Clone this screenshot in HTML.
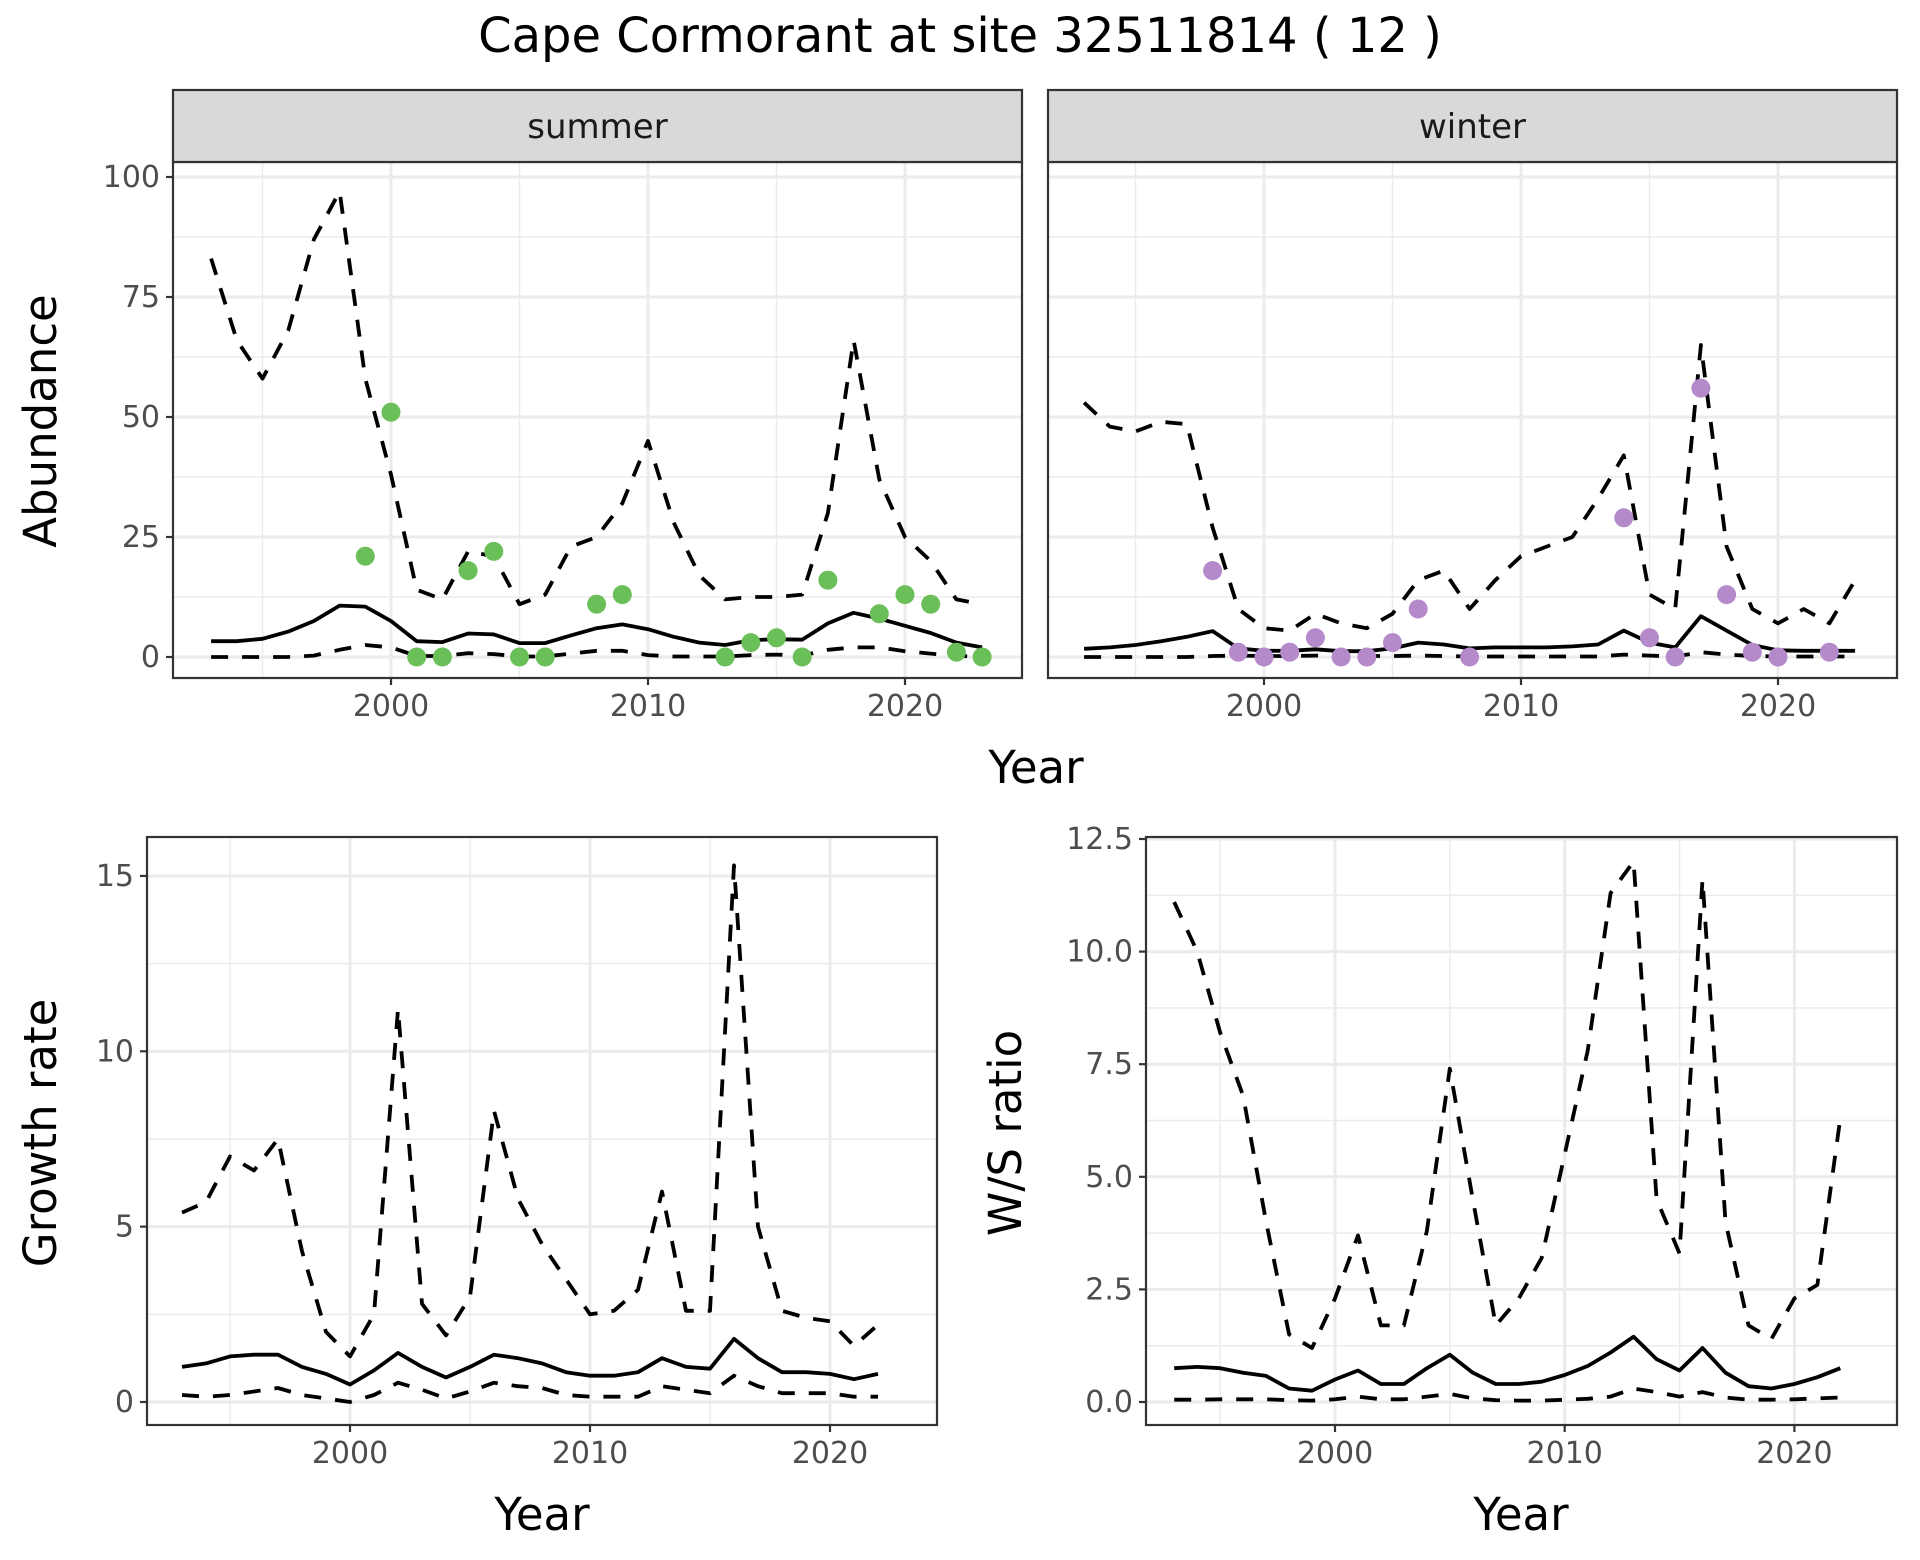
<!DOCTYPE html>
<html><head><meta charset="utf-8">
<style>
html,body{margin:0;padding:0;background:#fff;}
svg{display:block;font-family:"DejaVu Sans","Liberation Sans",sans-serif;}
</style></head>
<body>
<svg id="chart" width="1920" height="1560" viewBox="0 0 1920 1560" xmlns="http://www.w3.org/2000/svg">
<rect width="1920" height="1560" fill="#fff"/>
<text x="960" y="52" font-size="48" text-anchor="middle" fill="#000">Cape Cormorant at site 32511814 ( 12 )</text>
</svg>
<script>
// ---- data ----
const yearsAb = [1993,1994,1995,1996,1997,1998,1999,2000,2001,2002,2003,2004,2005,2006,2007,2008,2009,2010,2011,2012,2013,2014,2015,2016,2017,2018,2019,2020,2021,2022,2023];
const summerUpper = [83,66,58,68,87,97,58,38,14,12,22,21,11,13,23,25,32,45,28,17,12,12.5,12.5,13,30,66,37,25,20,12,11];
const summerMean = [3.3,3.3,3.8,5.3,7.5,10.7,10.5,7.5,3.3,3.1,4.9,4.7,2.9,2.9,4.5,6,6.8,5.8,4.2,3,2.5,3.5,3.7,3.6,7,9.2,8,6.5,5,3,2];
const summerLower = [0,0,0,0,0.3,1.5,2.5,2,0.2,0.2,0.8,0.6,0.1,0.1,0.7,1.3,1.3,0.4,0.1,0.1,0.1,0.4,0.5,0.3,1.5,2,2,1.2,0.7,0.2,0.1];
const summerPtYears = [1999,2000,2001,2002,2003,2004,2005,2006,2008,2009,2013,2014,2015,2016,2017,2019,2020,2021,2022,2023];
const summerPtVals = [21,51,0,0,18,22,0,0,11,13,0,3,4,0,16,9,13,11,1,0];
const winterUpper = [53,48,47,49,48.5,27,10,6,5.5,9,7,6,9,16,18,10,16,21,23,25,33,42,13,10,65,23,10,7,10,7,16];
const winterMean = [1.7,2,2.5,3.3,4.2,5.4,1.8,1.3,1.3,1.6,1.2,1.2,1.8,3,2.6,1.8,2,2,2,2.2,2.6,5.5,3,2,8.5,5.5,2.5,1.4,1.3,1.3,1.3];
const winterLower = [0,0,0,0,0,0.2,0.3,0.2,0.2,0.3,0.2,0.2,0.2,0.3,0.2,0.1,0.1,0.1,0.1,0.1,0.1,0.5,0.3,0.1,1,0.5,0.2,0.1,0.1,0.1,0.1];
const winterPtYears = [1998,1999,2000,2001,2002,2003,2004,2005,2006,2008,2014,2015,2016,2017,2018,2019,2020,2022];
const winterPtVals = [18,1,0,1,4,0,0,3,10,0,29,4,0,56,13,1,0,1];
const yearsB = [1993,1994,1995,1996,1997,1998,1999,2000,2001,2002,2003,2004,2005,2006,2007,2008,2009,2010,2011,2012,2013,2014,2015,2016,2017,2018,2019,2020,2021,2022];
const growthUpper = [5.4,5.7,7.0,6.6,7.5,4.3,2.0,1.3,2.5,11.2,2.8,1.9,3.0,8.3,5.8,4.5,3.5,2.5,2.6,3.2,6.0,2.6,2.6,15.3,5.0,2.6,2.4,2.3,1.6,2.2];
const growthMean = [1.0,1.1,1.3,1.35,1.35,1.0,0.8,0.5,0.9,1.4,1.0,0.7,1.0,1.35,1.25,1.1,0.85,0.75,0.75,0.85,1.25,1.0,0.95,1.8,1.25,0.85,0.85,0.8,0.65,0.8];
const growthLower = [0.2,0.15,0.2,0.3,0.4,0.2,0.1,0.0,0.2,0.55,0.35,0.1,0.3,0.55,0.45,0.4,0.2,0.15,0.15,0.15,0.45,0.35,0.25,0.75,0.45,0.25,0.25,0.25,0.15,0.15];
const wsUpper = [11.1,10.0,8.2,6.8,4.0,1.5,1.2,2.3,3.7,1.7,1.7,3.8,7.4,4.5,1.7,2.3,3.2,5.5,7.8,11.3,12.0,4.5,3.3,11.6,4.0,1.7,1.4,2.3,2.6,6.3];
const wsMean = [0.75,0.78,0.75,0.65,0.58,0.3,0.25,0.5,0.7,0.4,0.4,0.75,1.05,0.65,0.4,0.4,0.45,0.6,0.8,1.1,1.45,0.95,0.7,1.2,0.65,0.35,0.3,0.4,0.55,0.75];
const wsLower = [0.05,0.05,0.06,0.06,0.06,0.04,0.03,0.06,0.12,0.06,0.06,0.12,0.18,0.08,0.04,0.03,0.03,0.05,0.07,0.12,0.3,0.22,0.12,0.22,0.1,0.05,0.05,0.06,0.08,0.1];
const xTicks = [2000,2010,2020];
const abTicks = [0,25,50,75,100];
const grTicks = [0,5,10,15];
const wsTicks = [0,2.5,5,7.5,10,12.5];
const wsTickLabels = ["0.0","2.5","5.0","7.5","10.0","12.5"];

const NS = "http://www.w3.org/2000/svg";
const svg = document.getElementById('chart');
function mk(tag, attrs, parent){
  const e = document.createElementNS(NS, tag);
  for (const k in attrs) e.setAttribute(k, attrs[k]);
  (parent||svg).appendChild(e);
  return e;
}
function panel(cfg){
  const g = mk('g', {});
  
  
  const {x0,x1,y0,y1} = cfg;
  const sx = v => cfg.px0 + (v - cfg.vx0) * cfg.kx;
  const sy = v => cfg.py0 - v * cfg.ky;
  mk('rect',{x:x0,y:y0,width:x1-x0,height:y1-y0,fill:'#fff'},g);
  for (const t of cfg.yMinor){ const y=sy(t); if(y>y0&&y<y1) mk('line',{x1:x0,x2:x1,y1:y,y2:y,stroke:'#ebebeb','stroke-width':1.5},g); }
  for (const t of cfg.xMinor){ const x=sx(t); if(x>x0&&x<x1) mk('line',{x1:x,x2:x,y1:y0,y2:y1,stroke:'#ebebeb','stroke-width':1.5},g); }
  for (const t of cfg.yTicks){ const y=sy(t); mk('line',{x1:x0,x2:x1,y1:y,y2:y,stroke:'#ebebeb','stroke-width':3},g); }
  for (const t of xTicks){ const x=sx(t); mk('line',{x1:x,x2:x,y1:y0,y2:y1,stroke:'#ebebeb','stroke-width':3},g); }
  const path = (xs, ys, dash, nm) => {
    const d = xs.map((xv,i)=>(i?'L':'M')+sx(xv).toFixed(1)+','+sy(ys[i]).toFixed(1)).join('');
    const p = mk('path',{d:d,fill:'none',stroke:'#000','stroke-width':3.8,'stroke-linejoin':'round'},g);
    if (dash) p.setAttribute('stroke-dasharray','17,14');
    
    
  };
  path(cfg.years, cfg.upper, true, 'upper-bound-line');
  path(cfg.years, cfg.mean, false, 'mean-line');
  path(cfg.years, cfg.lower, true, 'lower-bound-line');
  if (cfg.ptYears){
    cfg.ptYears.forEach((yr,i)=>{
      const c = mk('circle',{cx:sx(yr),cy:sy(cfg.ptVals[i]),r:9.5,fill:cfg.ptColor},g);
      
      
    });
  }
  mk('rect',{x:x0,y:y0,width:x1-x0,height:y1-y0,fill:'none',stroke:'#333','stroke-width':2.2},g);
  if (cfg.showY){
    cfg.yTicks.forEach((t,i)=>{
      const y=sy(t);
      mk('line',{x1:x0-7,x2:x0,y1:y,y2:y,stroke:'#333','stroke-width':2.2},g);
      const tx = mk('text',{x:x0-13,y:y+10,'font-size':30,'text-anchor':'end',fill:'#4d4d4d'},g);
      tx.textContent = cfg.yLabels ? cfg.yLabels[i] : String(t);
      
      
    });
  }
  for (const t of xTicks){
    const x=sx(t);
    mk('line',{x1:x,x2:x,y1:y1,y2:y1+7,stroke:'#333','stroke-width':2.2},g);
    const tx = mk('text',{x:x,y:y1+38,'font-size':30,'text-anchor':'middle',fill:'#4d4d4d'},g);
    tx.textContent = String(t);
    
    
  }
  if (cfg.strip){
    mk('rect',{x:x0,y:90,width:x1-x0,height:y0-90,fill:'#d9d9d9',stroke:'#333','stroke-width':2.2},g);
    const st = mk('text',{x:(x0+x1)/2,y:138,'font-size':34,'text-anchor':'middle',fill:'#1a1a1a'},g);
    st.textContent = cfg.strip;
    
    
  }
  return g;
}
const minorAb=[12.5,37.5,62.5,87.5], minorX=[1995,2005,2015];
panel({name:'summer-panel',x0:173,x1:1022,y0:162,y1:678,px0:391,vx0:2000,kx:25.7,py0:657,ky:4.8,
  yTicks:abTicks,yMinor:minorAb,xMinor:minorX,years:yearsAb,upper:summerUpper,mean:summerMean,lower:summerLower,
  ptYears:summerPtYears,ptVals:summerPtVals,ptColor:'#6bbf59',showY:true,strip:'summer'});
panel({name:'winter-panel',x0:1048,x1:1897,y0:162,y1:678,px0:1264,vx0:2000,kx:25.7,py0:657,ky:4.8,
  yTicks:abTicks,yMinor:minorAb,xMinor:minorX,years:yearsAb,upper:winterUpper,mean:winterMean,lower:winterLower,
  ptYears:winterPtYears,ptVals:winterPtVals,ptColor:'#b48acb',showY:false,strip:'winter'});
panel({name:'growth-rate-panel',x0:147,x1:937,y0:837,y1:1425,px0:350,vx0:2000,kx:24.0,py0:1402,ky:35.07,
  yTicks:grTicks,yMinor:[2.5,7.5,12.5],xMinor:minorX,years:yearsB,upper:growthUpper,mean:growthMean,lower:growthLower,showY:true});
panel({name:'ws-ratio-panel',x0:1146,x1:1897,y0:837,y1:1425,px0:1335,vx0:2000,kx:22.97,py0:1402,ky:45.04,
  yTicks:wsTicks,yLabels:wsTickLabels,yMinor:[1.25,3.75,6.25,8.75,11.25],xMinor:minorX,years:yearsB,upper:wsUpper,mean:wsMean,lower:wsLower,showY:true});
</script>
<script>
(function(){
  const NS="http://www.w3.org/2000/svg";const svg=document.getElementById('chart');
  function t(x,y,s,txt,nm,rot){const e=document.createElementNS(NS,'text');e.setAttribute('x',x);e.setAttribute('y',y);e.setAttribute('font-size',s);e.setAttribute('text-anchor','middle');e.setAttribute('fill','#000');if(rot)e.setAttribute('transform','rotate(-90 '+x+' '+y+')');e.textContent=txt;
  
  
  svg.appendChild(e);}
  t(1036,783,45,'Year','top-x-axis-title');
  t(542,1530,45,'Year','growth-x-axis-title');
  t(1521,1530,45,'Year','ws-x-axis-title');
  t(56,421,45,'Abundance','abundance-y-axis-title',true);
  t(56,1133,45,'Growth rate','growth-y-axis-title',true);
  t(1021,1133,45,'W/S ratio','ws-y-axis-title',true);
})();
</script>
</body></html>
